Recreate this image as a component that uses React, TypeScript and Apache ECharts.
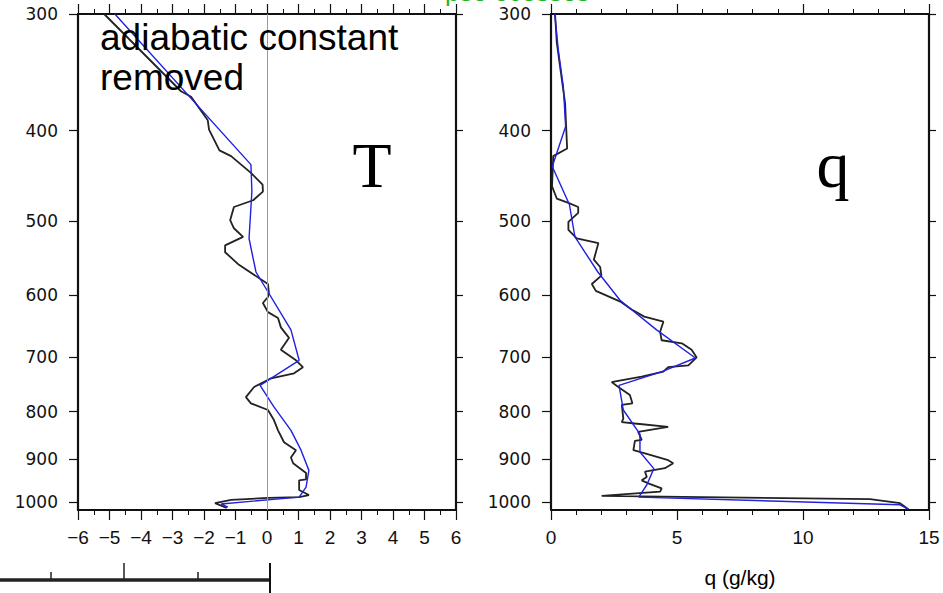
import React, { useEffect, useRef } from "react";
import * as echarts from "echarts";

// Pressure levels (hPa) used for the y tick labels
const pLevels = [300, 400, 500, 600, 700, 800, 900, 1000];
const pMin = 300;
const pMax = 1020;

// T panel ticks
const tTicks = [-6, 6];
// q panel ticks
const qTicks = [0, 15];

// Temperature (adiabatic constant removed), observed profile
const tObsP = [300, 363, 368, 390, 399, 420, 426, 444, 457, 465, 475, 483, 499, 509, 520, 531, 540, 557, 584, 597, 603, 612, 626, 635, 650, 667, 687, 705, 717, 728, 737, 753, 772, 784, 797, 817, 838, 863, 880, 896, 909, 931, 946, 948, 971, 983, 988, 990, 995, 1003, 1015];
const tObsV = [-5.17, -2.73, -2.41, -1.88, -1.84, -1.51, -1.14, -0.51, -0.14, -0.13, -0.44, -1.05, -1.17, -1.05, -0.76, -1.33, -1.33, -0.89, 0.03, 0.06, 0.03, -0.13, 0.03, 0.35, 0.44, 0.70, 0.44, 0.92, 1.14, 0.86, 0.13, -0.41, -0.67, -0.51, 0.03, 0.22, 0.35, 0.54, 0.92, 0.76, 0.83, 1.24, 1.24, 1.02, 1.02, 1.33, 1.02, 0.03, -1.14, -1.65, -1.28];

// Temperature, fitted profile (blue)
const tFitP = [300, 435, 465, 522, 567, 654, 705, 750, 791, 838, 880, 925, 964, 988, 1005, 1013];
const tFitV = [-4.83, -0.51, -0.48, -0.57, -0.35, 0.76, 1.02, -0.22, 0.22, 0.76, 1.08, 1.33, 1.24, 1.02, -1.46, -1.24];

// Specific humidity (g/kg), observed profile
const qObsP = [300, 322, 374, 418, 426, 459, 473, 478, 483, 490, 501, 511, 522, 528, 550, 560, 572, 584, 594, 610, 622, 633, 641, 657, 671, 676, 687, 700, 714, 717, 725, 734, 742, 744, 753, 768, 784, 787, 814, 821, 824, 831, 841, 858, 860, 880, 887, 902, 909, 920, 928, 940, 948, 955, 967, 975, 985, 993, 1003, 1018];
const qObsV = [0.16, 0.23, 0.56, 0.64, 0.09, 0.04, 0.23, 0.69, 1.08, 1.08, 0.69, 0.69, 1.02, 1.88, 1.70, 1.95, 2.00, 1.62, 1.78, 2.75, 3.20, 3.70, 4.46, 4.33, 4.39, 5.19, 5.58, 5.78, 5.45, 4.65, 4.46, 3.60, 2.61, 2.41, 2.67, 3.13, 3.23, 2.81, 2.87, 2.81, 3.33, 4.65, 3.46, 3.60, 3.33, 3.27, 3.73, 4.65, 4.85, 4.52, 3.73, 3.80, 3.60, 3.86, 4.39, 4.33, 2.01, 12.66, 13.85, 14.18];

// Specific humidity, fitted profile (blue)
const qFitP = [300, 328, 359, 396, 437, 480, 520, 567, 608, 654, 701, 725, 750, 797, 846, 884, 921, 959, 988, 1007, 1018];
const qFitV = [0.15, 0.29, 0.49, 0.58, 0.05, 0.73, 0.95, 1.86, 2.74, 4.19, 5.73, 4.40, 2.70, 2.87, 3.53, 3.53, 4.08, 3.80, 3.48, 13.85, 14.18];

const lg = (p: number) => Math.log10(p);
const pairs = (vals: number[], ps: number[]) => vals.map((v, i) => [v, lg(ps[i])]);

const labelFont = "DejaVu Sans";
const black = "#111";

function yAxes(gridIndex: number) {
  const ticks = pLevels.map(lg);
  return [
    {
      type: "value",
      gridIndex,
      min: lg(pMin),
      max: lg(pMax),
      inverse: true,
      position: "left",
      axisLine: { show: true, onZero: false, lineStyle: { color: black, width: 2.2 } },
      axisTick: { show: true, customValues: ticks, length: 9, lineStyle: { color: black, width: 1.2 } },
      axisLabel: {
        show: true,
        customValues: ticks,
        formatter: (v: number) => String(Math.round(Math.pow(10, v))),
        margin: 20,
        fontSize: 17,
        fontFamily: labelFont,
        color: black,
      },
      splitLine: { show: false },
    },
    {
      type: "value",
      gridIndex,
      min: lg(pMin),
      max: lg(pMax),
      inverse: true,
      position: "right",
      axisLine: { show: true, onZero: false, lineStyle: { color: black, width: 2.2 } },
      axisTick: { show: true, customValues: ticks, length: 7, lineStyle: { color: black, width: 1.2 } },
      axisLabel: { show: false },
      splitLine: { show: false },
    },
  ];
}

function xAxes(gridIndex: number, min: number, max: number, interval: number, minorSplit: number, fmt: (v: number) => string) {
  const base = {
    type: "value",
    gridIndex,
    min,
    max,
    interval,
    axisLine: { show: true, onZero: false, lineStyle: { color: black, width: 2.2 } },
    axisTick: { show: true, length: 10, lineStyle: { color: black, width: 1.2 } },
    minorTick: { show: true, splitNumber: minorSplit, length: 5, lineStyle: { color: black, width: 1 } },
    splitLine: { show: false },
    minorSplitLine: { show: false },
  };
  return [
    {
      ...base,
      position: "bottom",
      axisLabel: { show: true, margin: 18, fontSize: 19, fontFamily: "Liberation Sans", color: black, formatter: fmt },
    },
    { ...base, position: "top", axisLabel: { show: false } },
  ];
}

export default function App() {
  const ref = useRef<HTMLDivElement>(null);
  useEffect(() => {
    if (!ref.current) return;
    const chart = echarts.init(ref.current, null, { renderer: "svg" });
    const tFmt = (v: number) => (v < 0 ? "\u2212" + String(-v) : String(v));
    const option: any = {
      animation: false,
      backgroundColor: "#fff",
      grid: [
        { left: 78, top: 14, width: 378, height: 496 },
        { left: 551, top: 14, width: 378, height: 496 },
      ],
      xAxis: [
        ...xAxes(0, tTicks[0], tTicks[1], 1, 2, tFmt),
        ...xAxes(1, qTicks[0], qTicks[1], 5, 5, (v: number) => String(v)),
      ],
      yAxis: [...yAxes(0), ...yAxes(1)],
      series: [
        {
          type: "line",
          xAxisIndex: 0,
          yAxisIndex: 0,
          data: pairs(tObsV, tObsP),
          showSymbol: false,
          lineStyle: { color: "#222", width: 1.8 },
          silent: true,
          markLine: {
            silent: true,
            symbol: "none",
            label: { show: false },
            lineStyle: { color: "#999", width: 1, type: "solid" },
            data: [{ xAxis: 0 }],
          },
        },
        {
          type: "line",
          xAxisIndex: 0,
          yAxisIndex: 0,
          data: pairs(tFitV, tFitP),
          showSymbol: false,
          lineStyle: { color: "#2020e0", width: 1.4 },
          silent: true,
        },
        {
          type: "line",
          xAxisIndex: 2,
          yAxisIndex: 2,
          data: pairs(qObsV, qObsP),
          showSymbol: false,
          lineStyle: { color: "#222", width: 1.8 },
          silent: true,
        },
        {
          type: "line",
          xAxisIndex: 2,
          yAxisIndex: 2,
          data: pairs(qFitV, qFitP),
          showSymbol: false,
          lineStyle: { color: "#2020e0", width: 1.4 },
          silent: true,
        },
      ],
      graphic: [
        {
          type: "text",
          x: 100,
          y: 37,
          style: { text: "adiabatic constant", fontSize: 37, fontFamily: "Liberation Sans", fill: "#000", textVerticalAlign: "middle" },
          z: 100,
        },
        {
          type: "text",
          x: 100,
          y: 77,
          style: { text: "removed", fontSize: 37, fontFamily: "Liberation Sans", fill: "#000", textVerticalAlign: "middle" },
          z: 100,
        },
        {
          type: "text",
          x: 372,
          y: 165,
          style: { text: "T", fontSize: 64, fontFamily: "Liberation Serif", fill: "#000", textAlign: "center", textVerticalAlign: "middle" },
        },
        {
          type: "text",
          x: 833,
          y: 164,
          style: { text: "q", fontSize: 66, fontFamily: "Liberation Serif", fill: "#000", textAlign: "center", textVerticalAlign: "middle" },
        },
        {
          type: "text",
          x: 740,
          y: 577,
          style: { text: "q (g/kg)", fontSize: 21, fontFamily: "Liberation Sans", fill: "#000", textAlign: "center", textVerticalAlign: "middle" },
        },
        {
          type: "text",
          x: 445,
          y: -21,
          style: { text: "pse ocesses", fontSize: 26, fontFamily: "Liberation Sans", fill: "#22b522", textVerticalAlign: "top" },
          z: 0,
        },
        { type: "line", shape: { x1: 0, y1: 580, x2: 270, y2: 580 }, style: { stroke: "#222", lineWidth: 3.5 } },
        { type: "line", shape: { x1: 51, y1: 572, x2: 51, y2: 580 }, style: { stroke: "#222", lineWidth: 1.5 } },
        { type: "line", shape: { x1: 124, y1: 563, x2: 124, y2: 580 }, style: { stroke: "#222", lineWidth: 1.5 } },
        { type: "line", shape: { x1: 198, y1: 572, x2: 198, y2: 580 }, style: { stroke: "#222", lineWidth: 1.5 } },
        { type: "line", shape: { x1: 270, y1: 563, x2: 270, y2: 593 }, style: { stroke: "#111", lineWidth: 2 } },
      ],
    };
    chart.setOption(option);
    return () => chart.dispose();
  }, []);
  return <div ref={ref} style={{ position: "absolute", left: 0, top: 0, width: 943, height: 593 }} />;
}
